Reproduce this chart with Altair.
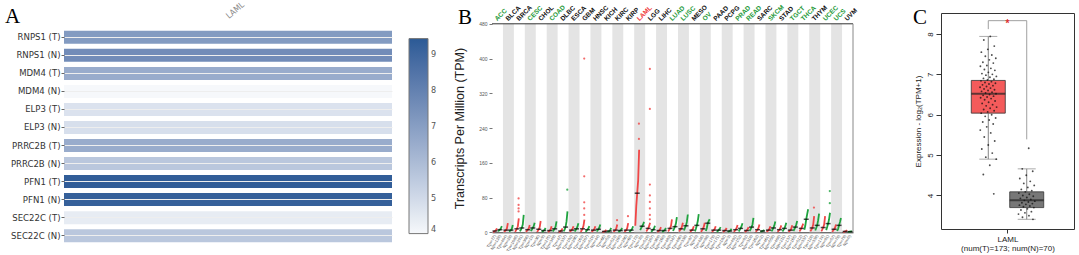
import altair as alt
import pandas as pd

# ---------------- Panel A data ----------------
a_rows = ["RNPS1 (T)", "RNPS1 (N)", "MDM4 (T)", "MDM4 (N)", "ELP3 (T)", "ELP3 (N)",
          "PRRC2B (T)", "PRRC2B (N)", "PFN1 (T)", "PFN1 (N)", "SEC22C (T)", "SEC22C (N)"]
a_tpm = [7.1, 7.6, 6.5, 4.0, 4.7, 4.8, 6.5, 5.6, 9.3, 9.2, 4.4, 5.6]
a_cancer = "LAML"

# ---------------- Panel B data ----------------
cancers = ["ACC", "BLCA", "BRCA", "CESC", "CHOL", "COAD", "DLBC", "ESCA", "GBM", "HNSC", "KICH",
           "KIRC", "KIRP", "LAML", "LGG", "LIHC", "LUAD", "LUSC", "MESO", "OV", "PAAD", "PCPG",
           "PRAD", "READ", "SARC", "SKCM", "STAD", "TGCT", "THCA", "THYM", "UCEC", "UCS", "UVM"]
label_colors = ["#1f9a3a", "#111", "#111", "#1f9a3a", "#111", "#1f9a3a", "#111", "#111", "#111", "#111", "#111",
                "#111", "#111", "#f03c3c", "#111", "#111", "#1f9a3a", "#1f9a3a", "#111", "#1f9a3a", "#111", "#111",
                "#1f9a3a", "#1f9a3a", "#111", "#1f9a3a", "#111", "#1f9a3a", "#1f9a3a", "#111", "#1f9a3a", "#1f9a3a", "#111"]
num_t = [77, 404, 1085, 306, 36, 275, 47, 182, 163, 519, 66, 523, 286, 173, 518, 369, 483, 486, 87, 426,
         179, 182, 492, 92, 262, 461, 408, 137, 512, 118, 174, 57, 79]
num_n = [128, 28, 291, 13, 9, 349, 337, 286, 207, 44, 53, 100, 60, 70, 207, 160, 347, 338, 0, 88,
         171, 3, 152, 318, 2, 558, 211, 165, 337, 339, 91, 78, 0]
# sorted expression levels (min, q25, median, q75, max of dense part), TPM
t_vals = [[0.5, 1.5, 3, 5, 9], [1, 3, 5, 9, 21], [1, 4, 8, 14, 32], [1, 3, 6, 9, 17], [1, 3, 7, 12, 26],
          [1, 2, 4, 7, 14], [0.5, 1, 3, 5, 9], [1, 3, 5, 8, 14], [1, 4, 8, 15, 29], [1, 3, 5, 8, 14],
          [0.5, 1, 2, 3, 6], [1, 3, 5, 9, 18], [1, 3, 5, 10, 21], [15, 60, 90, 120, 190], [2, 5, 9, 14, 22],
          [1, 2, 4, 7, 12], [2, 5, 9, 15, 30], [2, 5, 8, 13, 22], [1, 3, 5, 8, 14], [1, 4, 8, 13, 22],
          [1, 3, 5, 8, 14], [1, 2, 4, 6, 10], [1, 3, 6, 10, 17], [1, 2, 4, 7, 12], [1, 3, 6, 10, 18],
          [1, 3, 5, 8, 14], [1, 3, 6, 10, 16], [1, 3, 5, 9, 16], [2, 5, 9, 14, 20], [2, 6, 10, 18, 37],
          [2, 6, 11, 18, 37], [1, 4, 7, 11, 18], [0.5, 1, 2, 3, 5]]
n_vals = [[2, 4, 6, 9, 14], [2, 3, 5, 8, 17], [2, 6, 10, 18, 40], [3, 6, 10, 14, 22], [1, 2, 4, 6, 10],
          [2, 5, 8, 13, 25], [2, 6, 12, 25, 48], [2, 5, 8, 13, 21], [1, 3, 6, 9, 14], [2, 4, 7, 11, 18],
          [1, 2, 3, 6, 10], [1, 2, 4, 6, 10], [1, 3, 5, 8, 14], [5, 10, 14, 18, 24], [1, 3, 6, 9, 15],
          [1, 2, 4, 6, 10], [3, 8, 13, 20, 35], [4, 10, 15, 24, 41], [2, 8, 16, 26, 42], [3, 10, 21, 26, 30],
          [1, 3, 5, 8, 12], [1, 2, 3, 5, 8], [2, 5, 9, 14, 21], [3, 7, 12, 18, 33], [1, 2, 3, 4, 5],
          [2, 6, 10, 16, 25], [2, 5, 9, 14, 22], [3, 7, 12, 18, 26], [6, 15, 30, 42, 53], [4, 10, 16, 28, 43],
          [5, 12, 20, 30, 45], [3, 8, 16, 24, 33], [0.5, 1, 1.5, 2, 3]]
out_cancer = ["BRCA", "BRCA", "BRCA", "BRCA", "DLBC", "GBM", "GBM", "GBM", "GBM", "GBM", "KIRP",
              "KIRC", "LAML", "LAML", "LGG", "LGG", "LGG", "LGG", "LGG", "LGG", "LGG", "LGG",
              "THYM", "UCEC", "UCEC"]
out_group = ["T", "T", "T", "T", "N", "T", "T", "T", "T", "T", "T",
             "T", "T", "T", "T", "T", "T", "T", "T", "T", "T", "T",
             "T", "N", "N"]
out_value = [48, 55, 63, 78, 98, 40, 55, 69, 129, 400, 37,
             28, 215, 250, 30, 40, 55, 70, 85, 110, 284, 376,
             57, 67, 95]

# ---------------- Panel C data ----------------
c_groups = ["T", "N"]
c_q1 = [6.04, 3.70]
c_med = [6.52, 3.88]
c_q3 = [6.85, 4.09]
c_wlo = [4.90, 3.41]
c_whi = [7.94, 4.66]
c_t_points = [7.94, 7.85, 7.7, 7.62, 7.55, 7.48, 7.45, 7.4, 7.36, 7.3, 7.28, 7.22, 7.2, 7.15, 7.12, 7.1,
              7.05, 7.02, 7.0, 6.98, 6.95, 6.93, 6.9, 6.88, 6.86, 6.84, 6.82, 6.8, 6.78, 6.76, 6.74, 6.72,
              6.7, 6.68, 6.66, 6.64, 6.62, 6.6, 6.58, 6.56, 6.54, 6.52, 6.5, 6.48, 6.46, 6.44, 6.42, 6.4,
              6.37, 6.34, 6.31, 6.28, 6.25, 6.22, 6.19, 6.16, 6.13, 6.1, 6.07, 6.04, 6.0, 5.96, 5.92, 5.87,
              5.82, 5.77, 5.7, 5.62, 5.55, 5.45, 5.35, 5.25, 5.15, 5.05, 4.95, 4.9, 4.75, 4.52, 4.04]
c_n_points = [5.17, 4.66, 4.6, 4.5, 4.42, 4.35, 4.3, 4.25, 4.2, 4.15, 4.12, 4.09, 4.06, 4.03, 4.0, 3.98,
              3.95, 3.93, 3.9, 3.88, 3.86, 3.84, 3.82, 3.8, 3.78, 3.76, 3.74, 3.72, 3.7, 3.67, 3.64, 3.6,
              3.57, 3.54, 3.5, 3.46, 3.41]
c_bracket_top = 8.33
c_bracket_left = 8.12
c_bracket_right = 5.39

SANS = "Liberation Sans"
SERIF = "Liberation Serif"
RED = "#f04646"
GREEN = "#1fa33f"

# Layout: all panel views share the same top edge; A and B place their data lower
TOP_MARGIN = 11.7  # distance from page top to the shared panel top
A_TOP = 15.3       # offset of heatmap rows inside panel A view
B_TOP = 10.8       # offset of plot frame inside panel B view

# ======================= Panel A =======================
W_A, H_A = 328, 231.7
dfA = pd.DataFrame({"row": a_rows, "tpm": a_tpm, "cancer": a_cancer})
xsA = alt.Scale(paddingInner=0, paddingOuter=0)
heat = alt.Chart(dfA).mark_rect().encode(
    x=alt.X("cancer:N", title=None, scale=xsA, axis=None),
    y=alt.Y("row:N", sort=a_rows, title=None,
            scale=alt.Scale(paddingInner=0.28, paddingOuter=0.14, range=[A_TOP, H_A]),
            axis=alt.Axis(domain=False, tickSize=3, tickColor="#666", labelFontSize=9.5, labelColor="#333",
                          labelFont="DejaVu Sans Condensed, Liberation Sans Narrow, Liberation Sans",
                          labelPadding=1, grid=True, gridColor="#eeeeee")),
    color=alt.Color("tpm:Q", scale=alt.Scale(domain=[4, 9.43], range=["#f6f8fb", "#2b5a96"]),
                    legend=alt.Legend(orient="none", legendX=345, legendY=25.6, title=None, direction="vertical",
                                      gradientLength=195, gradientThickness=19, gradientStrokeColor="#777",
                                      gradientStrokeWidth=1, labelFontSize=9, labelColor="#555",
                                      values=[4, 5, 6, 7, 8, 9], labelOverlap=False, labelOffset=3,
                                      labelFont="DejaVu Sans Condensed, Liberation Sans")),
)
colLab = alt.Chart(pd.DataFrame({"cancer": [a_cancer]})).mark_text(
    angle=320, align="left", baseline="bottom", fontSize=8.5, color="#888", dx=3,
    font="DejaVu Sans Condensed, Liberation Sans"
).encode(x=alt.X("cancer:N", scale=xsA, axis=None), y=alt.value(9.5), text="cancer:N")
letterA = alt.Chart(pd.DataFrame({"t": ["A"]})).mark_text(
    font=SERIF, fontSize=21, align="left", baseline="alphabetic", color="#000"
).encode(x=alt.value(-59), y=alt.value(10.3), text="t:N")
A = alt.layer(heat, colLab, letterA).properties(width=W_A, height=H_A)

# ======================= Panel B =======================
W_B, H_B = 361, 219.3
rows = []
for i, c in enumerate(cancers):
    for g, vals in (("T", t_vals[i]), ("N", n_vals[i])):
        for r, v in enumerate(vals):
            rows.append({"ci": i, "grp": g, "rank": r, "tpm": v, "key": c + "-" + g})
dfB = pd.DataFrame(rows)
dfBands = pd.DataFrame({"x0": [i for i in range(len(cancers)) if i % 2 == 1]})
dfBands["x1"] = dfBands["x0"] + 1
dfOut = pd.DataFrame({"ci": [cancers.index(c) for c in out_cancer], "grp": out_group, "tpm": out_value})
dfTop = pd.DataFrame({"ci": list(range(len(cancers))), "name": cancers, "lc": label_colors})
bot = []
for i, c in enumerate(cancers):
    bot.append({"ci": i, "grp": "T", "lab": "T(n=%d)" % num_t[i]})
    bot.append({"ci": i, "grp": "N", "lab": "N(n=%d)" % num_n[i]})
dfBot = pd.DataFrame(bot)

xsB = alt.Scale(domain=[0, len(cancers)], nice=False, zero=False)
axB = alt.Axis(labels=False, ticks=False, grid=False, title=None, domainColor="#333", domainWidth=1)
ysB = alt.Scale(domain=[0, 480], nice=False, zero=False, range=[H_B, B_TOP])
ayB = alt.Axis(values=[0, 80, 160, 240, 320, 400, 480], labelFontSize=5, labelColor="#555", tickSize=3,
               tickColor="#777", domain=False, grid=False, title="Transcripts Per Million (TPM)",
               titleFontSize=12.5, titleFontWeight="normal", titleFont=SANS, titleColor="#222",
               titlePadding=12, labelPadding=2, titleY=(H_B + B_TOP) / 2, titleAlign="center")
colB = alt.Color("grp:N", scale=alt.Scale(domain=["T", "N"], range=[RED, GREEN]), legend=None)

bands = alt.Chart(dfBands).mark_rect(color="#e4e4e4").encode(
    x=alt.X("x0:Q", scale=xsB, axis=axB), x2="x1:Q", y=alt.value(B_TOP), y2=alt.value(H_B))
frame_top = alt.Chart(pd.DataFrame({"z": [0]})).mark_rule(color="#333", strokeWidth=1).encode(
    x=alt.value(0), x2=alt.value(W_B), y=alt.value(B_TOP))
frame_right = alt.Chart(pd.DataFrame({"z": [0]})).mark_rule(color="#888", strokeWidth=1).encode(
    x=alt.value(W_B), y=alt.value(B_TOP), y2=alt.value(H_B))
curves = alt.Chart(dfB).transform_calculate(
    xp="datum.ci + (datum.grp == 'T' ? 0.1 : 0.55) + datum.rank * 0.0875"
).mark_line(strokeWidth=1.8).encode(
    x=alt.X("xp:Q", scale=xsB, axis=axB), y=alt.Y("tpm:Q", scale=ysB, axis=ayB),
    color=colB, detail="key:N", order="rank:Q")
medians = alt.Chart(dfB).transform_filter("datum.rank == 2").transform_calculate(
    xp="datum.ci + (datum.grp == 'T' ? 0.275 : 0.725)"
).mark_tick(orient="horizontal", size=5, thickness=1.5, color="#000").encode(
    x=alt.X("xp:Q", scale=xsB, axis=axB), y=alt.Y("tpm:Q", scale=ysB, axis=ayB))
outl = alt.Chart(dfOut).transform_calculate(
    xp="datum.ci + (datum.grp == 'T' ? 0.43 : 0.88)"
).mark_circle(size=5, opacity=0.8).encode(
    x=alt.X("xp:Q", scale=xsB, axis=axB), y=alt.Y("tpm:Q", scale=ysB, axis=ayB), color=colB)
topl = alt.Chart(dfTop).transform_calculate(xc="datum.ci + 0.35").mark_text(
    angle=315, align="left", baseline="middle", fontSize=6.5, fontWeight="bold", font=SANS
).encode(x=alt.X("xc:Q", scale=xsB, axis=axB), y=alt.value(B_TOP - 4), text="name:N",
         color=alt.Color("lc:N", scale=None))
botl = alt.Chart(dfBot).transform_calculate(
    xp="datum.ci + (datum.grp == 'T' ? 0.3 : 0.75)"
).mark_text(angle=300, align="right", baseline="middle", fontSize=4, color="#444", font=SANS).encode(
    x=alt.X("xp:Q", scale=xsB, axis=axB), y=alt.value(H_B + 3), text="lab:N")
letterB = alt.Chart(pd.DataFrame({"t": ["B"]})).mark_text(
    font=SERIF, fontSize=21, align="left", baseline="alphabetic", color="#000"
).encode(x=alt.value(-34), y=alt.value(11.3), text="t:N")
B = alt.layer(bands, frame_top, frame_right, curves, medians, outl, topl, botl, letterB).properties(
    width=W_B, height=H_B)

# ======================= Panel C =======================
W_C, H_C = 133, 216
dfBox = pd.DataFrame({"gi": [0, 1], "grp": c_groups, "q1": c_q1, "med": c_med, "q3": c_q3,
                      "wlo": c_wlo, "whi": c_whi})
dfPts = pd.DataFrame({"gi": [0] * len(c_t_points) + [1] * len(c_n_points),
                      "v": c_t_points + c_n_points})
dfBr = pd.DataFrame({"x0": [0], "x1": [1], "yt": [c_bracket_top], "yl": [c_bracket_left],
                     "yr": [c_bracket_right], "s": ["*"], "xm": [0.5]})

xsC = alt.Scale(domain=[-1.1, 2.1], nice=False, zero=False)
axC = alt.Axis(values=[0.5], labelExpr="'LAML'", tickSize=4, tickColor="#333", title="(num(T)=173; num(N)=70)",
               grid=False, domain=False, labelFontSize=8, labelColor="#222", titleFontSize=8,
               titleFontWeight="normal", titleColor="#222", titlePadding=1, labelPadding=2,
               labelFont=SANS, titleFont=SANS)
ysC = alt.Scale(domain=[3.17, 8.52], nice=False, zero=False)
ayC = alt.Axis(values=[4, 5, 6, 7, 8], labelAngle=-90, labelAlign="center", labelBaseline="bottom",
               tickSize=5, tickColor="#333", title="Expression - log\u2082(TPM+1)", titleFontSize=8,
               titleFontWeight="normal", titleColor="#222", grid=False, domain=False, labelFontSize=8,
               labelColor="#222", labelPadding=2, titlePadding=4, labelFont=SANS, titleFont=SANS)

boxes = alt.Chart(dfBox).mark_bar(size=34, stroke="#333", strokeWidth=0.8).encode(
    x=alt.X("gi:Q", scale=xsC, axis=axC), y=alt.Y("q1:Q", scale=ysC, axis=ayC), y2="q3:Q",
    color=alt.Color("grp:N", scale=alt.Scale(domain=["T", "N"], range=["#f45b5b", "#777777"]), legend=None))
wl = alt.Chart(dfBox).mark_rule(color="#666", strokeWidth=0.8).encode(
    x=alt.X("gi:Q", scale=xsC, axis=axC), y=alt.Y("wlo:Q", scale=ysC, axis=ayC), y2="q1:Q")
wh = alt.Chart(dfBox).mark_rule(color="#666", strokeWidth=0.8).encode(
    x=alt.X("gi:Q", scale=xsC, axis=axC), y=alt.Y("q3:Q", scale=ysC, axis=ayC), y2="whi:Q")
caps = alt.Chart(dfBox).transform_fold(["wlo", "whi"], as_=["k", "cv"]).mark_tick(
    orient="horizontal", size=18, thickness=1, color="#888").encode(
    x=alt.X("gi:Q", scale=xsC, axis=axC), y=alt.Y("cv:Q", scale=ysC, axis=ayC))
meds = alt.Chart(dfBox).mark_tick(orient="horizontal", size=34, thickness=2, color="#222").encode(
    x=alt.X("gi:Q", scale=xsC, axis=axC), y=alt.Y("med:Q", scale=ysC, axis=ayC))
pts = alt.Chart(dfPts).transform_window(rn="row_number()", groupby=["gi"]).transform_calculate(
    jx="datum.gi + ((datum.rn * 0.6180339) % 1 - 0.5) * 0.44"
).mark_circle(size=3.5, color="#111", opacity=0.75).encode(
    x=alt.X("jx:Q", scale=xsC, axis=axC), y=alt.Y("v:Q", scale=ysC, axis=ayC))
brh = alt.Chart(dfBr).mark_rule(color="#888", strokeWidth=0.8).encode(
    x=alt.X("x0:Q", scale=xsC, axis=axC), x2="x1:Q", y=alt.Y("yt:Q", scale=ysC, axis=ayC))
brl = alt.Chart(dfBr).mark_rule(color="#888", strokeWidth=0.8).encode(
    x=alt.X("x0:Q", scale=xsC, axis=axC), y=alt.Y("yt:Q", scale=ysC, axis=ayC), y2="yl:Q")
brr = alt.Chart(dfBr).mark_rule(color="#888", strokeWidth=0.8).encode(
    x=alt.X("x1:Q", scale=xsC, axis=axC), y=alt.Y("yt:Q", scale=ysC, axis=ayC), y2="yr:Q")
star = alt.Chart(dfBr).mark_text(color="#e03030", fontSize=10, fontWeight="bold", baseline="middle",
                                 dy=3, font=SANS).encode(
    x=alt.X("xm:Q", scale=xsC, axis=axC), y=alt.Y("yt:Q", scale=ysC, axis=ayC), text="s:N")
letterC = alt.Chart(pd.DataFrame({"t": ["C"]})).mark_text(
    font=SERIF, fontSize=21, align="left", baseline="alphabetic", color="#000"
).encode(x=alt.value(-28), y=alt.value(11.3), text="t:N")
C = alt.layer(boxes, wl, wh, caps, meds, pts, brh, brl, brr, star, letterC).properties(
    width=W_C, height=H_C, view=alt.ViewBackground(stroke="#333", strokeWidth=1))


# ======================= Layout =======================
def spacer(w, h, top_anchor=False):
    base = alt.Chart(pd.DataFrame({"z": [0]}))
    if top_anchor:
        # invisible block that fixes the page's top margin
        return base.mark_rect(opacity=0).encode(
            x=alt.value(0), x2=alt.value(1), y=alt.value(-TOP_MARGIN), y2=alt.value(0)
        ).properties(width=w, height=h)
    return base.mark_point(opacity=0).encode(
        x=alt.value(0), y=alt.value(0)).properties(width=w, height=h)


chart = alt.hconcat(A, spacer(100, 1, top_anchor=True), B, spacer(88, 1), C,
                    spacing=0, bounds="flush").properties(
    padding={"left": 5, "top": 0, "right": 0, "bottom": 0}
).configure_view(stroke=None).configure_axis(labelFont=SANS, titleFont=SANS)

chart.save("out.html", embed_options={"renderer": "svg", "actions": False})
